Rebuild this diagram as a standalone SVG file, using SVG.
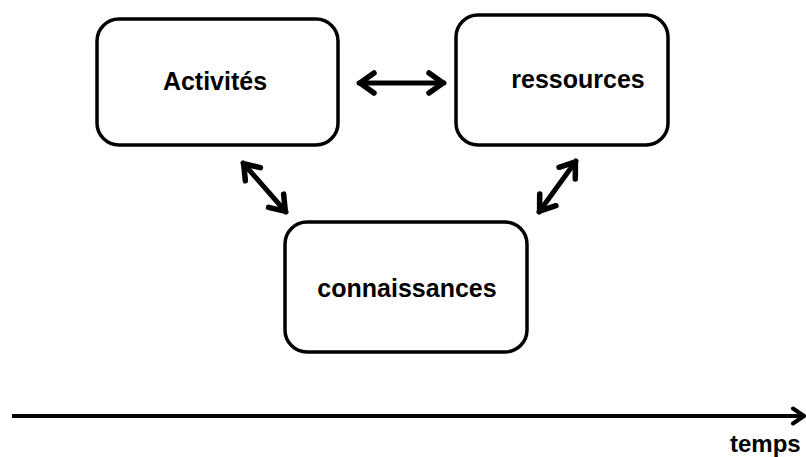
<svg xmlns="http://www.w3.org/2000/svg" width="806" height="457" viewBox="0 0 806 457">
<defs>
<style>
.box{fill:#fff;stroke:#000;stroke-width:3.5}
.lbl{font-family:"Liberation Sans",Arial,sans-serif;font-weight:bold;font-size:25px;fill:#000;text-anchor:middle}
.con{stroke:#000;stroke-width:5;fill:none;stroke-linecap:round}
.axis{stroke:#000;stroke-width:4;fill:none}
</style>
<marker id="head" markerUnits="userSpaceOnUse" markerWidth="40" markerHeight="40" viewBox="-20 -20 40 40" refX="0" refY="0" orient="auto-start-reverse">
<path d="M -15 -10 L -1 0 L -15 10" fill="none" stroke="#000" stroke-width="5.5" stroke-linecap="round" stroke-linejoin="round"/>
</marker>
<marker id="thead" markerUnits="userSpaceOnUse" markerWidth="30" markerHeight="30" viewBox="-15 -15 30 30" refX="0" refY="0" orient="auto">
<path d="M -11 -7.5 L 0 0 L -11 7.5" fill="none" stroke="#000" stroke-width="4" stroke-linecap="round" stroke-linejoin="round"/>
</marker>
</defs>
<rect width="806" height="457" fill="#fff"/>
<g id="activites">
<rect class="box" x="97" y="19" width="241" height="126" rx="22" ry="22"/>
<text class="lbl" x="215" y="90">Activités</text>
</g>
<g id="ressources">
<rect class="box" x="456" y="15" width="212" height="130" rx="22" ry="22"/>
<text class="lbl" x="578" y="88">ressources</text>
</g>
<g id="connaissances">
<rect class="box" x="285" y="222" width="242" height="130" rx="22" ry="22"/>
<text class="lbl" x="407" y="297">connaissances</text>
</g>
<g id="connectors">
<line class="con" x1="359" y1="83" x2="444" y2="83" marker-start="url(#head)" marker-end="url(#head)"/>
<line class="con" x1="243" y1="163" x2="286" y2="212" marker-start="url(#head)" marker-end="url(#head)"/>
<line class="con" x1="576" y1="161" x2="539" y2="212" marker-start="url(#head)" marker-end="url(#head)"/>
</g>
<g id="axis">
<line class="axis" x1="12" y1="416" x2="804" y2="416" marker-end="url(#thead)"/>
<text class="lbl" x="730" y="452" style="text-anchor:start;font-size:24px">temps</text>
</g>
</svg>
